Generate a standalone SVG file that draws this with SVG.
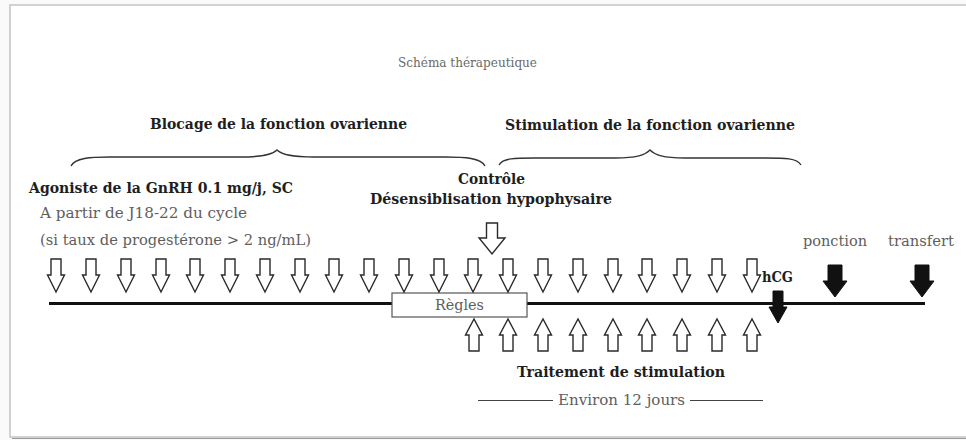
<svg xmlns="http://www.w3.org/2000/svg" xmlns:xlink="http://www.w3.org/1999/xlink" width="966" height="440" viewBox="0 0 966 440">
<style>
  .b { font-family: "DejaVu Serif", "Liberation Serif", serif; font-weight: bold; font-size: 14.5px; fill: #1e1e1e; }
  .n { font-family: "DejaVu Serif", "Liberation Serif", serif; font-size: 14px; fill: #5e5e5e; }
  .t { font-family: "DejaVu Serif", "Liberation Serif", serif; font-size: 13.5px; fill: #6a6a6a; }
  .brace { fill: none; stroke: #333; stroke-width: 1.4; }
  .hollow { fill: #fff; stroke: #2a2a2a; stroke-width: 1.4; stroke-linejoin: miter; }
  .solid { fill: #111; stroke: #111; stroke-width: 1; }
  .line { stroke: #111; stroke-width: 3; }
  .thin { stroke: #444; stroke-width: 1.2; }
</style>
<defs>
  <path id="dn" class="hollow" d="M-5,0 H5 V16 H8.5 L0,33 L-8.5,16 H-5 Z"/>
  <path id="up" class="hollow" d="M-5,32 H5 V16 H8.5 L0,0 L-8.5,16 H-5 Z"/>
</defs>
<rect x="0" y="0" width="966" height="440" fill="#fafafa"/>
<rect x="10" y="5" width="980" height="432" fill="#fff" stroke="#c4c4c4" stroke-width="1.5"/>
<line x1="12" y1="438.5" x2="966" y2="438.5" stroke="#9a9a9a" stroke-width="1.2"/>

<g id="title"><text class="t" x="398" y="67" textLength="139" lengthAdjust="spacingAndGlyphs">Schéma thérapeutique</text></g>

<g id="blocage">
  <text class="b" x="150" y="129" textLength="257" lengthAdjust="spacingAndGlyphs">Blocage de la fonction ovarienne</text>
  <path class="brace" d="M71,166 C75,158 90,157 110,157 L240,157 C262,157 272,155 277,150 C282,155 292,157 314,157 L445,157 C465,157 481,158 485,166"/>
</g>
<g id="stimulation">
  <text class="b" x="505" y="130" textLength="290" lengthAdjust="spacingAndGlyphs">Stimulation de la fonction ovarienne</text>
  <path class="brace" d="M499,165 C503,158 515,158 535,158 L615,158 C637,158 645,155 650,150 C655,155 663,158 685,158 L765,158 C785,158 797,158 801,165"/>
</g>

<g id="agoniste">
  <text class="b" x="29" y="193" textLength="264" lengthAdjust="spacingAndGlyphs">Agoniste de la GnRH 0.1 mg/j, SC</text>
  <text class="n" x="40" y="218" textLength="207" lengthAdjust="spacingAndGlyphs">A partir de J18-22 du cycle</text>
  <text class="n" x="40" y="245" textLength="271" lengthAdjust="spacingAndGlyphs">(si taux de progestérone &gt; 2 ng/mL)</text>
</g>

<g id="controle">
  <text class="b" x="458" y="184" textLength="67" lengthAdjust="spacingAndGlyphs">Contrôle</text>
  <text class="b" x="370" y="204" textLength="242" lengthAdjust="spacingAndGlyphs">Désensiblisation hypophysaire</text>
  <path class="hollow" d="M486.5,223 H497.5 V238 H505 L492,254 L479,238 H486.5 Z"/>
</g>

<g id="connectors">
  <line class="line" x1="49" y1="303.5" x2="392" y2="303.5"/>
  <line class="line" x1="527" y1="303.5" x2="925" y2="303.5"/>
</g>

<g id="regles">
  <rect x="392" y="293" width="135" height="24" fill="#fff" stroke="#555" stroke-width="1.2"/>
  <text class="n" x="435" y="309.5" textLength="49" lengthAdjust="spacingAndGlyphs" font-size="13.5">Règles</text>
</g>

<g id="agonist-arrows">
  <use xlink:href="#dn" x="56" y="259"/>
  <use xlink:href="#dn" x="91" y="259"/>
  <use xlink:href="#dn" x="126" y="259"/>
  <use xlink:href="#dn" x="161" y="259"/>
  <use xlink:href="#dn" x="195" y="259"/>
  <use xlink:href="#dn" x="230" y="259"/>
  <use xlink:href="#dn" x="265" y="259"/>
  <use xlink:href="#dn" x="300" y="259"/>
  <use xlink:href="#dn" x="334" y="259"/>
  <use xlink:href="#dn" x="369" y="259"/>
  <use xlink:href="#dn" x="404" y="259"/>
  <use xlink:href="#dn" x="439" y="259"/>
  <use xlink:href="#dn" x="473" y="259"/>
  <use xlink:href="#dn" x="508" y="259"/>
  <use xlink:href="#dn" x="543" y="259"/>
  <use xlink:href="#dn" x="578" y="259"/>
  <use xlink:href="#dn" x="613" y="259"/>
  <use xlink:href="#dn" x="647" y="259"/>
  <use xlink:href="#dn" x="682" y="259"/>
  <use xlink:href="#dn" x="717" y="259"/>
  <use xlink:href="#dn" x="752" y="259"/>
</g>

<g id="stim-arrows">
  <use xlink:href="#up" x="474" y="319"/>
  <use xlink:href="#up" x="508" y="319"/>
  <use xlink:href="#up" x="543" y="319"/>
  <use xlink:href="#up" x="578" y="319"/>
  <use xlink:href="#up" x="613" y="319"/>
  <use xlink:href="#up" x="647" y="319"/>
  <use xlink:href="#up" x="682" y="319"/>
  <use xlink:href="#up" x="717" y="319"/>
  <use xlink:href="#up" x="752" y="319"/>
</g>

<g id="hcg">
  <text class="b" x="762" y="282" textLength="31" lengthAdjust="spacingAndGlyphs">hCG</text>
  <path class="solid" d="M773,291 H783 V307 H787 L778,323 L769,307 H773 Z"/>
</g>

<g id="ponction">
  <text class="n" x="803" y="246" textLength="64" lengthAdjust="spacingAndGlyphs">ponction</text>
  <path class="solid" d="M828,265 H842 V281 H847 L835,297 L823,281 H828 Z"/>
</g>

<g id="transfert">
  <text class="n" x="888" y="246" textLength="66" lengthAdjust="spacingAndGlyphs">transfert</text>
  <path class="solid" d="M915,265 H929 V281 H934 L922,297 L910,281 H915 Z"/>
</g>

<g id="traitement">
  <text class="b" x="517" y="377" textLength="208" lengthAdjust="spacingAndGlyphs">Traitement de stimulation</text>
  <line class="thin" x1="478" y1="400.5" x2="553" y2="400.5"/>
  <text class="n" x="558" y="405" textLength="127" lengthAdjust="spacingAndGlyphs">Environ 12 jours</text>
  <line class="thin" x1="690" y1="400.5" x2="763" y2="400.5"/>
</g>
</svg>
